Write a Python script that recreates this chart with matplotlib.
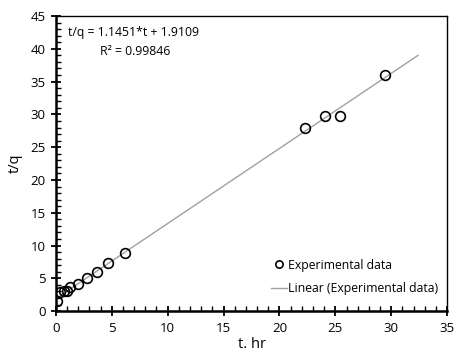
import numpy as np
import matplotlib.pyplot as plt
from matplotlib.ticker import MultipleLocator

plt.rcParams['font.family'] = ['Open Sans', 'DejaVu Sans']

t_hr = [0.1, 0.4, 0.7, 1.0, 1.3, 2.0, 2.75, 3.7, 4.7, 6.15, 22.3, 24.1, 25.4, 29.4]
t_over_q = [1.6, 2.9, 3.0, 3.1, 3.7, 4.2, 5.1, 6.0, 7.3, 8.8, 27.9, 29.8, 29.7, 36.0]

# trendline
slope, intercept = 1.1451, 1.9109
fit_x = [0.0, 32.4]

fig = plt.figure(figsize=(4.54, 3.56), dpi=100)
ax = fig.add_axes([0.123, 0.126, 0.862, 0.829])

fx = np.array(fit_x)
ax.plot(fx, slope * fx + intercept, '-', color='#a0a0a0', linewidth=1.0,
        label='Linear (Experimental data)', zorder=2)
ax.plot(t_hr, t_over_q, 'o', markerfacecolor='none', markeredgecolor='black',
        markersize=7, markeredgewidth=1.2, linestyle='none',
        label='Experimental data', zorder=3)

ax.set_xlim(0, 35)
ax.set_ylim(0, 45)
ax.xaxis.set_major_locator(MultipleLocator(5))
ax.xaxis.set_minor_locator(MultipleLocator(1))
ax.yaxis.set_major_locator(MultipleLocator(5))
ax.yaxis.set_minor_locator(MultipleLocator(1))
ax.tick_params(which='major', direction='inout', length=7, width=1.3, labelsize=9.5, pad=4)
ax.tick_params(which='minor', direction='in', length=3.5, width=1.0)

ax.spines['left'].set_linewidth(1.8)
ax.spines['bottom'].set_linewidth(1.8)
ax.spines['top'].set_linewidth(1.0)
ax.spines['right'].set_linewidth(1.0)

ax.set_xlabel('t. hr', fontsize=10.5, labelpad=2)
ax.set_ylabel('t/q', fontsize=10.5, labelpad=5)

ax.text(0.03, 0.943, 't/q = 1.1451*t + 1.9109', transform=ax.transAxes,
        fontsize=8.8, va='center', ha='left')
ax.text(0.113, 0.88, 'R² = 0.99846', transform=ax.transAxes,
        fontsize=8.8, va='center', ha='left')

handles, labels = ax.get_legend_handles_labels()
ax.legend(handles[::-1], labels[::-1], loc='lower right', frameon=False,
          fontsize=8.8, handlelength=1.3, handletextpad=0.1, labelspacing=0.85,
          markerscale=0.75, borderaxespad=0.2, bbox_to_anchor=(0.995, 0.03))

fig.savefig('out.png', dpi=100)
